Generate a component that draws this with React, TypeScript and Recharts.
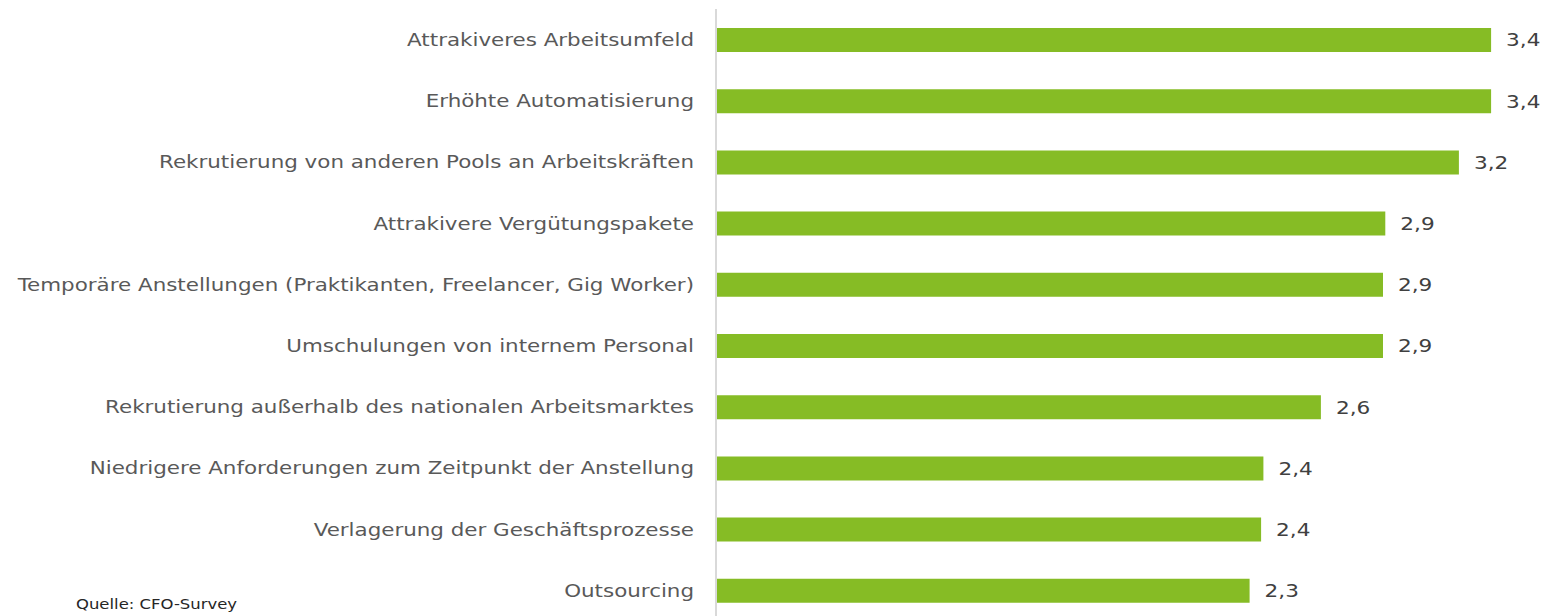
import { BarChart, Bar, XAxis, YAxis, LabelList } from "recharts";

const categories = [
  "Attrakiveres Arbeitsumfeld",
  "Erhöhte Automatisierung",
  "Rekrutierung von anderen Pools an Arbeitskräften",
  "Attrakivere Vergütungspakete",
  "Temporäre Anstellungen (Praktikanten, Freelancer, Gig Worker)",
  "Umschulungen von internem Personal",
  "Rekrutierung außerhalb des nationalen Arbeitsmarktes",
  "Niedrigere Anforderungen zum Zeitpunkt der Anstellung",
  "Verlagerung der Geschäftsprozesse",
  "Outsourcing",
];

// bar lengths as measured, labels as printed
const values = [3.37, 3.37, 3.23, 2.91, 2.9, 2.9, 2.63, 2.38, 2.37, 2.32];
const valueLabels = ["3,4", "3,4", "3,2", "2,9", "2,9", "2,9", "2,6", "2,4", "2,4", "2,3"];

const data = categories.map((name, i) => ({
  name,
  value: values[i],
  label: valueLabels[i],
}));

const font = "'DejaVu Sans', Verdana, sans-serif";

// DejaVu is narrower than the Verdana in the original, so stretch it a bit
function CategoryTick(props: any) {
  const { x, y, payload } = props;
  return (
    <g transform={`translate(${x},${y})`}>
      <text
        transform="scale(1.19,1)"
        textAnchor="end"
        dy="0.355em"
        fill="#595959"
        fontSize={18}
        fontFamily={font}
      >
        {payload.value}
      </text>
    </g>
  );
}

function ValueLabel(props: any) {
  const { x, y, width, height, value } = props;
  return (
    <g transform={`translate(${x + width + 15},${y + height / 2})`}>
      <text
        transform="scale(1.2,1)"
        textAnchor="start"
        dy="0.355em"
        fill="#404040"
        fontSize={18}
        fontFamily={font}
      >
        {value}
      </text>
    </g>
  );
}

export default function App() {
  return (
    <div
      style={{
        position: "absolute",
        left: 0,
        top: 0,
        width: 1544,
        height: 616,
        overflow: "hidden",
        background: "#fff",
      }}
    >
      <BarChart
        width={1544}
        height={622}
        data={data}
        layout="vertical"
        margin={{ top: 9, right: 0, bottom: 1, left: 0 }}
      >
        <XAxis type="number" domain={[0, 3.6]} hide />
        <YAxis
          type="category"
          dataKey="name"
          width={716}
          axisLine={{ stroke: "#d9d9d9", strokeWidth: 2 }}
          tickLine={false}
          tickSize={0}
          tickMargin={22}
          interval={0}
          tick={<CategoryTick />}
        />
        <Bar dataKey="value" fill="#86bc25" barSize={24} isAnimationActive={false}>
          <LabelList dataKey="label" content={<ValueLabel />} />
        </Bar>
      </BarChart>
      <div
        style={{
          position: "absolute",
          left: 76,
          top: 596,
          fontFamily: font,
          fontSize: 14,
          color: "#262626",
          transform: "scaleX(1.175)",
          transformOrigin: "left",
          whiteSpace: "nowrap",
        }}
      >
        Quelle: CFO-Survey
      </div>
    </div>
  );
}
